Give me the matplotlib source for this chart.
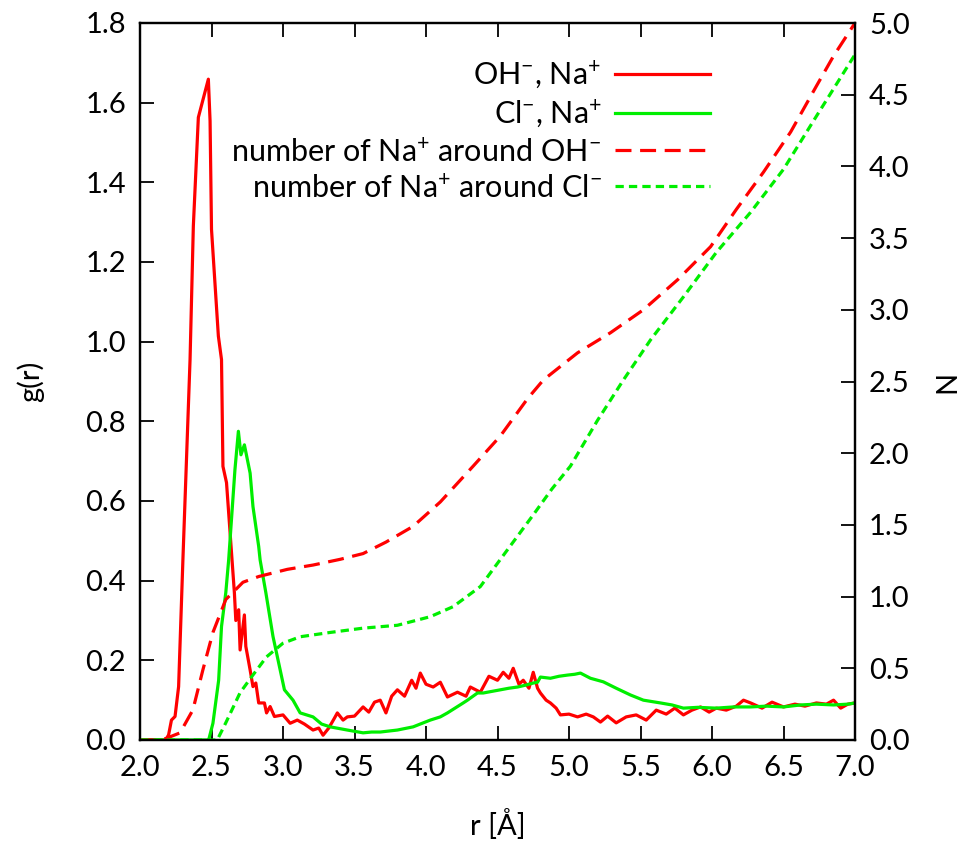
import numpy as np
import matplotlib
matplotlib.use('Agg')
from matplotlib import pyplot as plt

plt.rcParams['font.family'] = ['Lato', 'DejaVu Sans']
plt.rcParams['mathtext.fontset'] = 'custom'
plt.rcParams['mathtext.rm'] = 'Lato'
plt.rcParams['mathtext.default'] = 'regular'

"g(r) OH-, Na+"
r_oh = [2.00, 2.10, 2.18, 2.20, 2.22, 2.245, 2.27, 2.30, 2.35, 2.373, 2.408, 2.478, 2.49, 2.50,
        2.548, 2.57, 2.58, 2.605, 2.64, 2.66, 2.67, 2.69, 2.70, 2.73, 2.74, 2.77, 2.79, 2.81,
        2.83, 2.87, 2.885, 2.91, 2.94, 3.00, 3.05, 3.10, 3.15, 3.21, 3.25, 3.28, 3.32, 3.36,
        3.38, 3.42, 3.45, 3.50, 3.56, 3.60, 3.64, 3.68, 3.72, 3.76, 3.80, 3.85, 3.90, 3.93,
        3.96, 4.00, 4.05, 4.10, 4.15, 4.22, 4.28, 4.31, 4.38, 4.44, 4.50, 4.54, 4.58, 4.61,
        4.65, 4.68, 4.72, 4.75, 4.78, 4.80, 4.84, 4.87, 4.91, 4.94, 5.00, 5.06, 5.12, 5.17,
        5.22, 5.27, 5.33, 5.40, 5.47, 5.54, 5.61, 5.68, 5.74, 5.80, 5.86, 5.92, 5.98, 6.03,
        6.10, 6.17, 6.22, 6.27, 6.35, 6.42, 6.50, 6.58, 6.65, 6.73, 6.80, 6.85, 6.90, 6.95, 7.00]
g_oh = [0.0, 0.0, 0.0, 0.013, 0.05, 0.059, 0.134, 0.452, 0.955, 1.29, 1.563, 1.659, 1.554, 1.282,
        1.014, 0.955, 0.687, 0.646, 0.47, 0.37, 0.30, 0.327, 0.226, 0.314, 0.235, 0.176, 0.134, 0.143,
        0.093, 0.093, 0.068, 0.084, 0.059, 0.063, 0.042, 0.05, 0.04, 0.025, 0.03, 0.012, 0.03, 0.055,
        0.068, 0.05, 0.058, 0.06, 0.083, 0.07, 0.095, 0.10, 0.068, 0.11, 0.126, 0.11, 0.15, 0.13,
        0.168, 0.14, 0.133, 0.145, 0.108, 0.12, 0.11, 0.133, 0.12, 0.16, 0.15, 0.17, 0.155, 0.18,
        0.14, 0.15, 0.13, 0.17, 0.13, 0.118, 0.10, 0.093, 0.08, 0.063, 0.065, 0.058, 0.065, 0.058,
        0.045, 0.06, 0.043, 0.058, 0.063, 0.05, 0.075, 0.065, 0.08, 0.063, 0.075, 0.083, 0.07, 0.08,
        0.075, 0.085, 0.10, 0.093, 0.08, 0.095, 0.083, 0.09, 0.085, 0.093, 0.09, 0.10, 0.08, 0.09, 0.093]

"g(r) Cl-, Na+"
r_cl = [2.00, 2.48, 2.51, 2.55, 2.57, 2.60, 2.62, 2.664, 2.688, 2.706, 2.73, 2.77, 2.79, 2.83,
        2.84, 2.88, 2.93, 2.97, 3.01, 3.07, 3.12, 3.21, 3.27, 3.33, 3.45, 3.56, 3.62, 3.68, 3.80,
        3.91, 4.03, 4.10, 4.15, 4.26, 4.29, 4.36, 4.40, 4.46, 4.52, 4.58, 4.64, 4.70, 4.75, 4.78,
        4.80, 4.87, 4.93, 4.99, 5.04, 5.08, 5.15, 5.24, 5.33, 5.43, 5.52, 5.64, 5.72, 5.80, 5.90,
        6.03, 6.15, 6.27, 6.38, 6.50, 6.62, 6.73, 6.85, 6.95, 7.00]
g_cl = [0.0, 0.0, 0.042, 0.15, 0.285, 0.37, 0.452, 0.679, 0.775, 0.716, 0.741, 0.67, 0.586, 0.486,
        0.452, 0.37, 0.26, 0.193, 0.126, 0.10, 0.068, 0.058, 0.04, 0.033, 0.025, 0.018, 0.02, 0.02, 0.025,
        0.033, 0.05, 0.058, 0.068, 0.093, 0.10, 0.118, 0.118, 0.122, 0.126, 0.13, 0.133, 0.138, 0.143, 0.145,
        0.158, 0.155, 0.16, 0.163, 0.165, 0.168, 0.155, 0.146, 0.13, 0.113, 0.10, 0.093, 0.088, 0.08, 0.082,
        0.08, 0.083, 0.083, 0.085, 0.083, 0.088, 0.09, 0.088, 0.09, 0.093]

"N: number of Na+ around OH-"
r_noh = [2.00, 2.15, 2.19, 2.28, 2.37, 2.44, 2.51, 2.60, 2.72, 2.83, 3.03, 3.21, 3.40, 3.56, 3.72,
         3.91, 4.10, 4.33, 4.52, 4.71, 4.82, 5.06, 5.29, 5.52, 5.76, 5.99, 6.17, 6.36, 6.55, 6.73,
         6.85, 7.00]
n_oh = [0.0, 0.0, 0.014, 0.05, 0.21, 0.49, 0.75, 0.98, 1.10, 1.14, 1.19, 1.22, 1.26, 1.30, 1.38,
        1.49, 1.66, 1.91, 2.12, 2.38, 2.51, 2.70, 2.84, 3.00, 3.21, 3.44, 3.70, 3.96, 4.24, 4.56,
        4.77, 5.00]

"N: number of Na+ around Cl-"
r_ncl = [2.00, 2.54, 2.60, 2.70, 2.78, 2.885, 3.00, 3.12, 3.33, 3.56, 3.80, 4.03, 4.19, 4.38, 4.55,
         4.75, 4.88, 5.01, 5.20, 5.38, 5.57, 5.80, 6.03, 6.27, 6.50, 6.73, 7.00]
n_cl = [0.0, 0.0, 0.12, 0.33, 0.44, 0.58, 0.675, 0.72, 0.75, 0.78, 0.80, 0.86, 0.93, 1.07, 1.30,
        1.57, 1.75, 1.91, 2.23, 2.51, 2.79, 3.09, 3.40, 3.68, 3.98, 4.35, 4.78]

x_ticks = np.arange(2.0, 7.01, 0.5)
g_ticks = np.arange(0.0, 1.81, 0.2)
n_ticks = np.arange(0.0, 5.01, 0.5)

red = '#ff0000'
green = '#00ee00'
fs = 21
lw = 2.3

fig = plt.figure(figsize=(9.66, 8.41), dpi=100)
ax = fig.add_axes([140/966, 101/841, 715/966, 717/841])
ax2 = ax.twinx()

l1, = ax.plot(r_oh, g_oh, color=red, lw=lw, label='OH$^{-}$, Na$^{+}$')
l2, = ax.plot(r_cl, g_cl, color=green, lw=lw, label='Cl$^{-}$, Na$^{+}$')
l3, = ax2.plot(r_noh, n_oh, color=red, lw=lw, dashes=(5, 2.7), label='number of Na$^{+}$ around OH$^{-}$')
l4, = ax2.plot(r_ncl, n_cl, color=green, lw=lw, dashes=(2.6, 1.6), label='number of Na$^{+}$ around Cl$^{-}$')

ax.set_xlim(2.0, 7.0)
ax.set_ylim(0.0, 1.8)
ax2.set_ylim(0.0, 5.0)
ax.set_xticks(x_ticks)
ax.set_yticks(g_ticks)
ax2.set_yticks(n_ticks)
ax.set_xticklabels(['%.1f' % t for t in x_ticks])
ax.set_yticklabels(['%.1f' % t for t in g_ticks])
ax2.set_yticklabels(['%.1f' % t for t in n_ticks])

ax.tick_params(axis='x', direction='in', top=True, length=10, width=1.3, labelsize=fs, pad=11)
ax.tick_params(axis='y', direction='in', length=10, width=1.3, labelsize=fs, pad=10)
ax2.tick_params(axis='y', direction='in', length=10, width=1.3, labelsize=fs, pad=10)
for a in (ax, ax2):
    for s in a.spines.values():
        s.set_linewidth(1.6)

ax.set_xlabel('r [Å]', fontsize=fs, labelpad=20)
ax.set_ylabel('g(r)', fontsize=fs, labelpad=30)
ax2.set_ylabel('N', fontsize=fs, labelpad=18, rotation=90)

leg = ax2.legend(handles=[l1, l2, l3, l4], loc='upper right', bbox_to_anchor=(0.797, 0.950),
                 frameon=False, markerfirst=False, fontsize=22, handlelength=3.1,
                 handletextpad=0.45, labelspacing=0.24, borderaxespad=0, borderpad=0)

fig.savefig('out.png', dpi=100)
